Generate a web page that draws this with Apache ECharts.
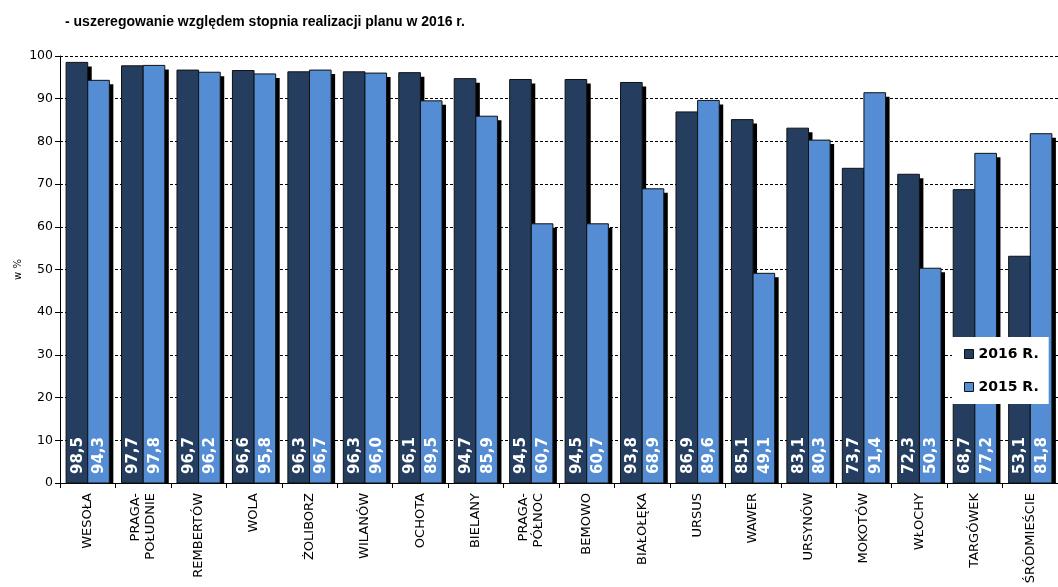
<!DOCTYPE html>
<html><head><meta charset="utf-8">
<script src="https://cdn.jsdelivr.net/npm/echarts@6/dist/echarts.min.js"></script>
<style>html,body{margin:0;padding:0;background:#fff}#c{width:1058px;height:587px}</style>
</head><body><div id="c"></div>
<script>
const categories = ['WESOŁA','PRAGA-\nPOŁUDNIE','REMBERTÓW','WOLA','ŻOLIBORZ','WILANÓW','OCHOTA','BIELANY','PRAGA-\nPÓŁNOC','BEMOWO','BIAŁOŁĘKA','URSUS','WAWER','URSYNÓW','MOKOTÓW','WŁOCHY','TARGÓWEK','ŚRÓDMIEŚCIE'];
const values2016 = [98.5,97.7,96.7,96.6,96.3,96.3,96.1,94.7,94.5,94.5,93.8,86.9,85.1,83.1,73.7,72.3,68.7,53.1];
const values2015 = [94.3,97.8,96.2,95.8,96.7,96.0,89.5,85.9,60.7,60.7,68.9,89.6,49.1,80.3,91.4,50.3,77.2,81.8];
const seriesNames = ['2016 R.','2015 R.'];
const seriesColors = ['#253E5F','#548DD4'];
const yTicks = {min:0, max:100, interval:10};

const chart = echarts.init(document.getElementById('c'), null, {renderer:'canvas'});
const fmt = v => v.toFixed(1).replace('.', ',');

function mk(idx, values){
  const color = seriesColors[idx];
  return {
    name: seriesNames[idx], type:'custom',
    data: values.map((v,i)=>[i, v]),
    encode:{x:0, y:1},
    itemStyle:{color},
    renderItem: function(params, api){
      const i = api.value(0), v = api.value(1);
      const top = api.coord([i, v]);
      const base = api.coord([i, 0]);
      const catW = api.size([1,0])[0];
      const bw = catW*0.39;
      const x = idx===0 ? top[0]-bw : top[0];
      const h = base[1]-top[1];
      return {type:'group', children:[
        {type:'rect', shape:{x:x+4, y:top[1]+4, width:bw, height:Math.max(0,h-4)}, style:{fill:'#000'}},
        {type:'rect', shape:{x:x, y:top[1], width:bw, height:h}, style:{fill:color, stroke:'#111', lineWidth:1}},
        {type:'text', x:x+bw/2+1, y:base[1]-9, rotation:Math.PI/2,
          style:{text:fmt(v), fill:'#fff', font:'bold 15px "DejaVu Sans"', align:'left', verticalAlign:'middle'}}
      ]};
    }
  };
}
chart.setOption({
  animation:false,
  title:{text:'- uszeregowanie względem stopnia realizacji planu w 2016 r.', left:60, top:10,
    textStyle:{fontFamily:'Liberation Sans', fontWeight:'bold', fontSize:14, color:'#000'}},
  legend:{orient:'vertical', left:952, top:337, backgroundColor:'#fff', padding:[10,10,10,12],
    itemWidth:9, itemHeight:9, itemGap:19,
    data:seriesNames.map((n,k)=>({name:n, icon:'rect', itemStyle:{color:seriesColors[k], borderColor:'#111', borderWidth:1}})),
    textStyle:{fontFamily:'DejaVu Sans', fontWeight:'bold', fontSize:14, color:'#000'}},
  grid:{left:60, top:56, bottom:104, width:1005, containLabel:false},
  xAxis:{type:'category', data:categories,
    axisLine:{lineStyle:{color:'#000', width:1}},
    axisTick:{show:true, inside:false, length:5, alignWithLabel:false, lineStyle:{color:'#000'}},
    axisLabel:{rotate:90, interval:0, margin:10, color:'#000', fontFamily:'DejaVu Sans', fontSize:13, lineHeight:15}},
  yAxis:{type:'value', min:yTicks.min, max:yTicks.max, interval:yTicks.interval,
    name:'w %', nameLocation:'middle', nameGap:37, nameRotate:90, nameMoveOverlap:false,
    nameTextStyle:{fontFamily:'DejaVu Sans', fontSize:10, color:'#000'},
    axisLine:{show:true, lineStyle:{color:'#000'}},
    axisTick:{show:true, length:5, lineStyle:{color:'#000'}},
    axisLabel:{color:'#000', fontFamily:'DejaVu Sans', fontSize:12.5, margin:7},
    splitLine:{show:true, lineStyle:{color:'#000', type:[3,2], width:1}}},
  series:[mk(0, values2016), mk(1, values2015)]
});
</script></body></html>
